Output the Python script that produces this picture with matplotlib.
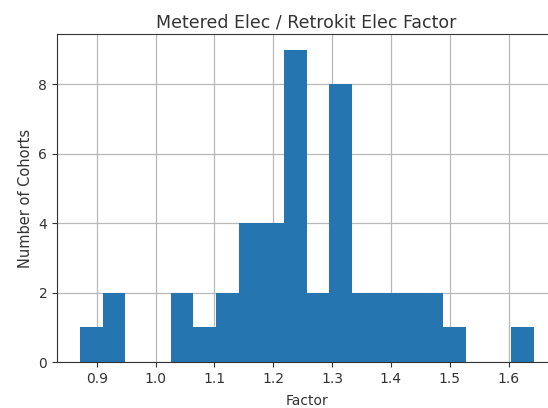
import numpy as np
import matplotlib
matplotlib.use("Agg")
import matplotlib.pyplot as plt

# histogram: 20 equal bins
bin_start = 0.8716
bin_end = 1.6425
counts = [1, 2, 0, 0, 2, 1, 2, 4, 4, 9, 2, 8, 2, 2, 2, 2, 1, 0, 0, 1]
x_ticks = [0.9, 1.0, 1.1, 1.2, 1.3, 1.4, 1.5, 1.6]
y_ticks = [0, 2, 4, 6, 8]

edges = np.linspace(bin_start, bin_end, len(counts) + 1)
centers = (edges[:-1] + edges[1:]) / 2

fig = plt.figure(figsize=(5.48, 4.08), dpi=100)
ax = fig.add_axes([0.104, 0.1127, 0.911, 0.804])
ax.hist(centers, bins=edges, weights=counts, color="#2475b0", zorder=2)
ax.set_xlim(0.8325, 1.681)
ax.set_ylim(0, 9.45)
ax.set_xticks(x_ticks)
ax.set_xticklabels([f"{t:.1f}" for t in x_ticks])
ax.set_yticks(y_ticks)
ax.grid(True, color="#b8b8b8", linewidth=0.9, zorder=0)
ax.set_axisbelow(True)
ax.set_title("Metered Elec / Retrokit Elec Factor", fontsize=12.5, color="#333333", pad=5)
ax.set_xlabel("Factor", fontsize=10, color="#333333", labelpad=6)
ax.set_ylabel("Number of Cohorts", fontsize=10.5, color="#333333")
ax.tick_params(labelsize=10, colors="#333333")
for s in ax.spines.values():
    s.set_color("#333333")

fig.savefig("out.png", dpi=100)
